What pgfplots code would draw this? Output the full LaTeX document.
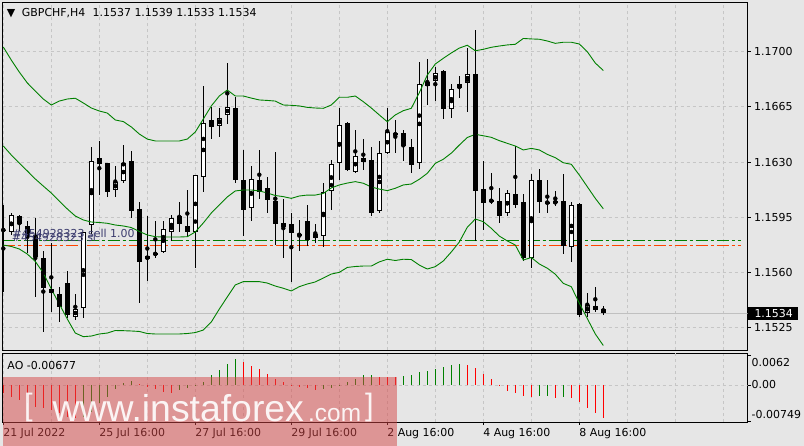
\documentclass[border=0pt]{standalone}
\usepackage{fontspec}
\setmainfont{DejaVu Sans}
\newfontfamily\wmfont{Liberation Sans}
\usepackage{pgfplots}
\usepackage{pgfplotstable}
\pgfplotsset{compat=1.18}

\definecolor{bg}{RGB}{230,230,230}
\definecolor{gridc}{RGB}{198,198,198}
\definecolor{bandg}{RGB}{0,128,0}
\definecolor{ordred}{RGB}{255,69,0}
\definecolor{aored}{RGB}{255,0,0}
\definecolor{bidc}{RGB}{192,192,192}
\definecolor{ordtxt}{RGB}{60,60,110}
\definecolor{wmred}{RGB}{214,70,70}

% GBPCHF H4 candles: index, open, high, low, close
\pgfplotstableread{
i o h l c
0 1.15873 1.16028 1.15478 1.15866
1 1.15855 1.15979 1.15838 1.15965
2 1.15958 1.15965 1.15863 1.15907
3 1.15895 1.15926 1.15724 1.15825
4 1.15838 1.15944 1.15443 1.15700
5 1.15696 1.15736 1.15221 1.15504
6 1.15493 1.15789 1.15351 1.15472
7 1.15464 1.15510 1.15288 1.15383
8 1.15531 1.15611 1.15313 1.15330
9 1.15320 1.15464 1.15303 1.15367
10 1.15373 1.15857 1.15316 1.15855
11 1.15901 1.16398 1.15848 1.16309
12 1.16328 1.16434 1.16091 1.16286
13 1.16292 1.16295 1.16081 1.16112
14 1.16123 1.16275 1.16081 1.16172
15 1.16182 1.16408 1.16166 1.16292
16 1.16307 1.16370 1.15944 1.15992
17 1.16001 1.16049 1.15405 1.15668
18 1.15684 1.15958 1.15548 1.15705
19 1.15722 1.15926 1.15696 1.15715
20 1.15732 1.15928 1.15722 1.15874
21 1.15859 1.15965 1.15802 1.15944
22 1.15958 1.16049 1.15859 1.15906
23 1.15895 1.16123 1.15827 1.15859
24 1.15855 1.16216 1.15630 1.16216
25 1.16204 1.16783 1.16112 1.16552
26 1.16567 1.16647 1.16448 1.16521
27 1.16533 1.16645 1.16461 1.16584
28 1.16597 1.16930 1.16542 1.16654
29 1.16643 1.16715 1.16169 1.16186
30 1.16186 1.16377 1.15831 1.15996
31 1.16013 1.16275 1.15928 1.16191
32 1.16186 1.16377 1.16066 1.16112
33 1.16136 1.16207 1.15979 1.16060
34 1.16053 1.16364 1.15772 1.15906
35 1.15890 1.16070 1.15694 1.15912
36 1.15907 1.15979 1.15542 1.15852
37 1.15842 1.15933 1.15738 1.15836
38 1.15926 1.16028 1.15768 1.15806
39 1.15821 1.15907 1.15789 1.15842
40 1.15833 1.16166 1.15764 1.16112
41 1.16119 1.16313 1.15996 1.16286
42 1.16292 1.16643 1.16186 1.16533
43 1.16546 1.16554 1.16244 1.16250
44 1.16239 1.16504 1.16234 1.16337
45 1.16326 1.16446 1.16250 1.16303
46 1.16313 1.16398 1.15958 1.15979
47 1.15992 1.16434 1.15979 1.16357
48 1.16360 1.16643 1.16351 1.16495
49 1.16483 1.16567 1.16357 1.16472
50 1.16484 1.16504 1.16309 1.16402
51 1.16396 1.16446 1.16233 1.16283
52 1.16292 1.16933 1.16258 1.16793
53 1.16781 1.16954 1.16664 1.16808
54 1.16812 1.16901 1.16689 1.16863
55 1.16878 1.16884 1.16571 1.16639
56 1.16635 1.16793 1.16582 1.16762
57 1.16772 1.16846 1.16708 1.16793
58 1.16806 1.17023 1.16620 1.16863
59 1.16859 1.17138 1.15802 1.16119
60 1.16134 1.16307 1.15869 1.16043
61 1.16049 1.16235 1.16037 1.16064
62 1.16053 1.16134 1.15912 1.15960
63 1.15975 1.16123 1.15960 1.16102
64 1.16098 1.16402 1.16011 1.16028
65 1.16047 1.16098 1.15675 1.15696
66 1.15696 1.16225 1.15627 1.16191
67 1.16186 1.16254 1.15979 1.16049
68 1.16047 1.16186 1.15979 1.16041
69 1.16053 1.16117 1.16024 1.16039
70 1.16053 1.16225 1.15717 1.15770
71 1.15764 1.16047 1.15668 1.16028
72 1.16034 1.16043 1.15320 1.15330
73 1.15341 1.15474 1.15320 1.15394
74 1.15388 1.15510 1.15351 1.15362
75 1.15370 1.15390 1.15330 1.15340
}\candles

% Bollinger bands: upper, middle, lower
\pgfplotstableread{
i up mid lo
0 1.17030 1.16402 1.15774
1 1.16947 1.16345 1.15765
2 1.16871 1.16294 1.15749
3 1.16802 1.16244 1.15717
4 1.16751 1.16193 1.15670
5 1.16700 1.16148 1.15597
6 1.16662 1.16104 1.15495
7 1.16687 1.16053 1.15400
8 1.16700 1.16003 1.15305
9 1.16705 1.15958 1.15216
10 1.16675 1.15933 1.15193
11 1.16643 1.15920 1.15197
12 1.16624 1.15917 1.15210
13 1.16611 1.15912 1.15216
14 1.16567 1.15901 1.15232
15 1.16557 1.15895 1.15231
16 1.16523 1.15885 1.15229
17 1.16478 1.15860 1.15226
18 1.16446 1.15838 1.15213
19 1.16434 1.15827 1.15210
20 1.16434 1.15825 1.15210
21 1.16434 1.15825 1.15210
22 1.16434 1.15825 1.15210
23 1.16446 1.15827 1.15213
24 1.16491 1.15857 1.15219
25 1.16573 1.15914 1.15235
26 1.16656 1.15977 1.15286
27 1.16719 1.16028 1.15368
28 1.16757 1.16079 1.15445
29 1.16719 1.16117 1.15521
30 1.16719 1.16123 1.15542
31 1.16706 1.16123 1.15542
32 1.16694 1.16117 1.15542
33 1.16691 1.16104 1.15533
34 1.16687 1.16088 1.15514
35 1.16662 1.16081 1.15500
36 1.16660 1.16070 1.15483
37 1.16656 1.16085 1.15510
38 1.16647 1.16091 1.15527
39 1.16643 1.16091 1.15540
40 1.16641 1.16101 1.15565
41 1.16662 1.16136 1.15590
42 1.16711 1.16155 1.15601
43 1.16711 1.16167 1.15632
44 1.16719 1.16176 1.15638
45 1.16683 1.16166 1.15641
46 1.16643 1.16142 1.15641
47 1.16599 1.16129 1.15667
48 1.16556 1.16119 1.15684
49 1.16599 1.16134 1.15676
50 1.16626 1.16155 1.15684
51 1.16641 1.16161 1.15682
52 1.16740 1.16191 1.15647
53 1.16852 1.16229 1.15622
54 1.16922 1.16292 1.15637
55 1.16958 1.16318 1.15673
56 1.16992 1.16357 1.15730
57 1.17023 1.16408 1.15793
58 1.17041 1.16456 1.15887
59 1.17006 1.16476 1.15939
60 1.17015 1.16467 1.15922
61 1.17028 1.16457 1.15880
62 1.17036 1.16436 1.15831
63 1.17043 1.16419 1.15800
64 1.17047 1.16402 1.15774
65 1.17084 1.16377 1.15679
66 1.17081 1.16387 1.15695
67 1.17079 1.16377 1.15654
68 1.17068 1.16349 1.15627
69 1.17053 1.16328 1.15589
70 1.17060 1.16296 1.15531
71 1.17060 1.16286 1.15510
72 1.17049 1.16218 1.15405
73 1.17000 1.16144 1.15308
74 1.16928 1.16070 1.15210
75 1.16881 1.16004 1.15137
}\bands

% Awesome Oscillator, rising bars
\pgfplotstableread{
i ao
10 -0.00657
11 -0.00554
12 -0.00380
13 -0.00243
14 -0.00083
15 0.00048
16 0.00083
22 -0.00104
23 -0.00068
24 0.00010
25 0.00068
26 0.00207
27 0.00311
28 0.00436
29 0.00539
40 -0.00093
41 -0.00068
42 -0.00010
43 0.00052
44 0.00118
45 0.00207
46 0.00212
50 0.00187
51 0.00207
52 0.00263
53 0.00290
54 0.00332
55 0.00380
56 0.00415
57 0.00436
67 -0.00222
68 -0.00218
70 -0.00243
}\aoup

% Awesome Oscillator, falling bars
\pgfplotstableread{
i ao
0 -0.00172
1 -0.00243
2 -0.00311
3 -0.00380
4 -0.00450
5 -0.00483
6 -0.00519
7 -0.00587
8 -0.00657
9 -0.00684
17 0.00031
18 -0.00048
19 -0.00089
20 -0.00139
21 -0.00172
30 0.00477
31 0.00394
32 0.00326
33 0.00222
34 0.00124
35 0.00068
36 0.00006
37 -0.00035
38 -0.00068
39 -0.00114
47 0.00176
48 0.00170
49 0.00166
58 0.00415
59 0.00346
60 0.00228
61 0.00124
62 0.00006
63 -0.00118
64 -0.00172
65 -0.00222
66 -0.00243
69 -0.00263
71 -0.00263
72 -0.00346
73 -0.00471
74 -0.00574
75 -0.00677
}\aodown

\pgfplotsset{
  mt/.style={
    scale only axis, width=745bp,
    xmin=-0.075, xmax=93.05,
    axis line style={line width=0.9bp, black},
    tick label style={font=\fontsize{11}{13}\selectfont, black},
    /pgf/number format/assume math mode=true,
    scaled y ticks=false, scaled x ticks=false,
    grid style={gridc, line width=0.8bp, dash pattern=on 3bp off 3bp},
    minor grid style={gridc, line width=0.8bp, dash pattern=on 3bp off 3bp},
    tick align=outside, major tick length=3bp, minor tick length=0bp,
    tick style={black, line width=0.8bp},
    ytick pos=right, yticklabel pos=right,
  },
}

\begin{document}
\begin{tikzpicture}[font=\fontsize{11}{13}\selectfont]
\useasboundingbox (0bp,0bp) rectangle (804bp,446bp);
\fill[bg] (0bp,0bp) rectangle (804bp,446bp);

% price window
\begin{axis}[mt,
  at={(2.7bp,95.5bp)}, anchor=south west, height=348.2bp,
  ymin=1.151053, ymax=1.173133,
  xtick={0,6,...,90}, xticklabels={}, xtick style={draw=none},
  xmajorgrids, ymajorgrids,
  ytick={1.1525,1.156,1.1595,1.163,1.1665,1.17},
  yticklabels={1.1525,1.1560,1.1595,1.1630,1.1665,1.1700},
  yticklabel style={anchor=west},
]
% bid line
\addplot[bidc, line width=1bp] coordinates {(-0.075,1.1534) (93.05,1.1534)};
% order levels: open (green, 1.15802) and stop (orange-red, 1.15770)
\draw[bandg, line width=1.3bp, dash pattern=on 12bp off 3bp on 3bp off 3bp]
  (axis cs:-0.075,1.15802) -- (axis cs:92.2,1.15802);
\draw[ordred, line width=1.3bp, dash pattern=on 12bp off 3bp on 3bp off 3bp]
  (axis cs:-0.075,1.1577) -- (axis cs:92.2,1.1577);
% wicks
\addplot[only marks, mark=none,
  error bars/.cd, y dir=both, y explicit, error mark=none,
  error bar style={draw=black, line width=1bp}]
  table[x=i, y expr={(\thisrow{h}+\thisrow{l})/2},
        y error expr={(\thisrow{h}-\thisrow{l})/2}] {\candles};
% bodies
\addplot[only marks, mark=none,
  error bars/.cd, y dir=both, y explicit, error mark=none,
  error bar style={draw=black, line width=5bp}]
  table[x=i, y expr={(\thisrow{o}+\thisrow{c})/2},
        y error expr={max(abs(\thisrow{c}-\thisrow{o})/2,0.000035)}] {\candles};
% white inside of rising candles
\addplot[only marks, mark=none,
  error bars/.cd, y dir=both, y explicit, error mark=none,
  error bar style={draw=white, line width=3bp}]
  table[x=i, y expr={(\thisrow{o}+\thisrow{c})/2},
        y error expr={max((\thisrow{c}-\thisrow{o})/2-0.0000634,0)}] {\candles};
% Bollinger bands
\addplot[bandg, line width=0.9bp] table[x=i, y=up] {\bands};
\addplot[bandg, line width=0.9bp] table[x=i, y=mid] {\bands};
\addplot[bandg, line width=0.9bp] table[x=i, y=lo] {\bands};
\end{axis}

% AO window
\begin{axis}[mt,
  at={(2.7bp,24bp)}, anchor=south west, height=68.5bp,
  ymin=-0.007674, ymax=0.006533,
  xtick={0,12,...,72},
  xticklabels={21 Jul 2022,25 Jul 16:00,27 Jul 16:00,29 Jul 16:00,2 Aug 16:00,4 Aug 16:00,8 Aug 16:00},
  xticklabel style={anchor=north west, xshift=-3.5bp},
  minor xtick={6,18,...,90},
  extra x ticks={84}, extra x tick labels={}, extra x tick style={major tick length=0bp},
  xtick pos=bottom,
  xmajorgrids, xminorgrids,
  ytick={-0.00749,0,0.0062},
  yticklabels={{\raisebox{3bp}{-0.00749}},{\raisebox{-4bp}{0.00}},{\raisebox{-11.7bp}{0.0062}}},
  yticklabel style={anchor=base west, xshift=-2.5bp},
]
\addplot[gridc, line width=0.8bp, dash pattern=on 3bp off 3bp] coordinates {(-0.075,0) (93.05,0)};
\addplot[ycomb, bandg, line width=1bp, mark=none] table[x=i, y=ao] {\aoup};
\addplot[ycomb, aored, line width=1bp, mark=none] table[x=i, y=ao] {\aodown};
\end{axis}

% window captions
\node[anchor=base west, inner sep=0] at (6.7bp,429.3bp) {▼};
\node[anchor=base west, inner sep=0] at (21.7bp,429.3bp) {GBPCHF,H4};
\node[anchor=base west, inner sep=0] at (92.5bp,429.3bp) {1.1537 1.1539 1.1533 1.1534};
\node[anchor=base west, inner sep=0] at (7.3bp,76.7bp) {AO -0.00677};
% order labels
\node[anchor=base west, inner sep=0, text=ordtxt] at (12.5bp,208bp) {\#454928323 sell 1.00};
\node[anchor=base west, inner sep=0, text=ordtxt] at (11.7bp,204.5bp) {\#454928323 sl};
% current price box
\fill[black] (747.7bp,126bp) rectangle (797.7bp,139.3bp);
\node[anchor=west, text=white, inner sep=0] at (754.3bp,132.7bp) {1.1534};

% watermark
\fill[wmred, opacity=0.5] (2.7bp,0bp) rectangle (396.7bp,69.3bp);
\begin{scope}[white, opacity=0.9]
\node[anchor=base west, inner sep=0] at (52.5bp,24.3bp) {\wmfont\fontsize{37.5}{39}\selectfont www.instaforex};
\node[anchor=base west, inner sep=0] at (308bp,24.3bp) {\wmfont\fontsize{24.5}{26}\selectfont .com};
\node[anchor=center, inner sep=0] at (28.5bp,38.5bp) {\wmfont\fontsize{31}{33}\selectfont [};
\node[anchor=center, inner sep=0] at (369.5bp,38.5bp) {\wmfont\fontsize{31}{33}\selectfont ]};
\end{scope}
\end{tikzpicture}
\end{document}
